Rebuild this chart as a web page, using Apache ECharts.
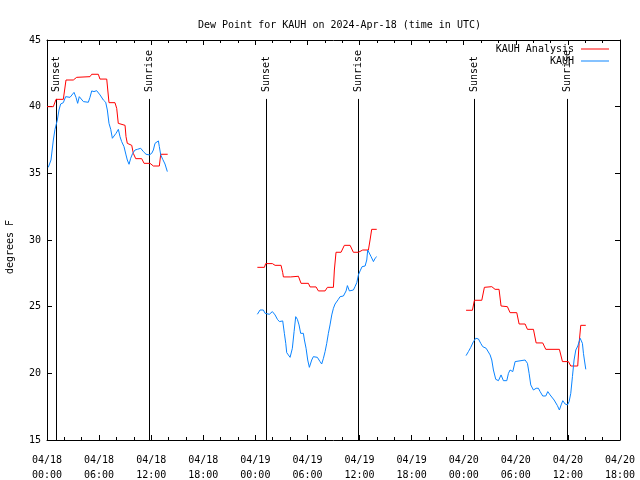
<!DOCTYPE html>
<html><head><meta charset="utf-8">
<script src="https://cdn.jsdelivr.net/npm/echarts@6/dist/echarts.min.js"></script>
<style>html,body{margin:0;padding:0;background:#fff}#c{width:640px;height:480px}</style>
</head><body><div id="c"></div>
<script>
// x values are hours after 04/18 00:00 UTC
const xTickHours = [0, 6, 12, 18, 24, 30, 36, 42, 48, 54, 60, 66];
const xTickLabels = ['04/18\n00:00','04/18\n06:00','04/18\n12:00','04/18\n18:00',
  '04/19\n00:00','04/19\n06:00','04/19\n12:00','04/19\n18:00',
  '04/20\n00:00','04/20\n06:00','04/20\n12:00','04/20\n18:00'];

const sunHours = [1.04, 11.79, 25.2, 35.86, 49.23, 59.94];
const sunLabels = ['Sunset', 'Sunrise', 'Sunset', 'Sunrise', 'Sunset', 'Sunrise'];

const analysisDay1 = [[0.0,40.0],[0.73,40.0],[1.04,40.55],[1.88,40.55],[2.19,42.0],[3.03,42.0],[3.42,42.2],[4.95,42.25],[5.15,42.43],[5.91,42.43],[6.1,42.07],[6.88,42.07],[7.14,40.3],[7.83,40.3],[8.03,39.87],[8.21,38.75],[8.99,38.6],[9.1,37.75],[9.25,37.25],[9.76,37.1],[9.94,36.5],[10.22,36.1],[10.91,36.1],[11.18,35.75],[11.87,35.75],[12.25,35.55],[12.94,35.55],[13.1,36.43],[13.9,36.43]];
const analysisDay2 = [[24.23,27.95],[25.04,27.95],[25.19,28.23],[25.96,28.23],[26.27,28.1],[26.96,28.1],[27.15,27.55],[27.23,27.23],[28.07,27.23],[28.19,27.28],[28.96,27.28],[29.26,26.75],[30.11,26.75],[30.3,26.48],[30.99,26.48],[31.26,26.18],[32.03,26.18],[32.3,26.45],[32.99,26.45],[33.1,27.75],[33.29,29.08],[33.87,29.08],[34.25,29.6],[34.91,29.6],[35.29,29.08],[35.87,29.08],[36.37,29.25],[37.02,29.25],[37.21,30.0],[37.4,30.8],[37.98,30.8]];
const analysisDay3 = [[48.27,24.73],[49.0,24.73],[49.23,25.48],[50.08,25.48],[50.38,26.45],[51.23,26.5],[51.61,26.3],[52.07,26.3],[52.3,25.05],[53.03,25.0],[53.34,24.55],[54.11,24.55],[54.38,23.7],[55.07,23.7],[55.34,23.3],[56.03,23.3],[56.34,22.28],[57.1,22.28],[57.45,21.8],[59.02,21.8],[59.37,20.88],[60.06,20.88],[60.33,20.55],[61.13,20.55],[61.29,22.25],[61.48,23.6],[62.06,23.6]];

const obsDay1 = [[0.15,35.45],[0.46,36.0],[0.73,37.5],[0.92,38.3],[1.19,39.0],[1.38,39.75],[1.57,40.2],[1.88,40.3],[2.15,40.75],[2.34,40.8],[2.65,40.7],[2.84,40.75],[3.11,41.07],[3.34,40.7],[3.53,40.25],[3.72,40.75],[3.92,40.63],[4.19,40.38],[4.38,40.3],[4.76,40.33],[4.95,40.7],[5.15,41.18],[5.41,41.13],[5.72,41.2],[5.91,41.2],[6.11,40.88],[6.49,40.5],[6.76,40.33],[6.95,39.75],[7.14,38.75],[7.34,38.3],[7.53,37.63],[7.72,37.75],[7.95,38.0],[8.22,38.3],[8.41,37.75],[8.6,37.38],[8.87,37.0],[9.1,36.38],[9.25,36.0],[9.45,35.68],[9.64,36.13],[9.87,36.5],[10.14,36.75],[10.41,36.8],[10.79,36.88],[11.1,36.63],[11.41,36.43],[11.79,36.38],[12.06,36.5],[12.25,36.75],[12.44,37.25],[12.63,37.38],[12.83,37.43],[12.94,37.0],[13.1,36.38],[13.33,36.05],[13.59,35.7],[13.86,35.13]];
const obsDay2 = [[24.23,24.43],[24.54,24.75],[24.92,24.75],[25.12,24.5],[25.61,24.43],[25.96,24.63],[26.27,24.38],[26.54,24.05],[26.77,23.88],[27.15,23.93],[27.34,23.0],[27.5,22.25],[27.61,21.55],[27.8,21.38],[28.0,21.2],[28.26,21.88],[28.46,23.13],[28.65,24.25],[28.84,24.05],[29.03,23.63],[29.22,23.0],[29.53,23.0],[29.65,22.5],[29.84,21.88],[30.03,21.0],[30.22,20.45],[30.38,20.3],[30.49,21.0],[30.68,21.25],[31.14,21.2],[31.45,20.88],[31.64,20.7],[31.84,21.13],[32.03,21.63],[32.22,22.25],[32.41,23.0],[32.6,23.63],[32.8,24.38],[32.99,24.88],[33.18,25.2],[33.37,25.33],[33.56,25.55],[33.76,25.75],[34.14,25.8],[34.33,25.88],[34.45,26.18],[34.6,26.58],[34.83,26.18],[35.02,26.13],[35.29,26.25],[35.48,26.5],[35.68,26.8],[35.87,27.38],[36.06,27.68],[36.29,28.0],[36.64,28.05],[36.83,28.5],[36.94,29.25],[37.13,29.13],[37.33,28.75],[37.6,28.38],[37.79,28.63],[37.98,28.75]];
const obsDay3 = [[48.27,21.33],[48.54,21.63],[48.81,21.95],[49.12,22.38],[49.39,22.63],[49.69,22.58],[49.96,22.25],[50.19,22.0],[50.58,21.88],[50.77,21.75],[51.04,21.38],[51.23,21.0],[51.42,20.25],[51.69,19.55],[52.0,19.45],[52.3,19.88],[52.57,19.45],[52.96,19.45],[53.15,20.0],[53.34,20.25],[53.65,20.13],[53.92,20.88],[54.11,21.0],[55.07,21.0],[55.34,20.75],[55.53,20.0],[55.72,19.13],[56.03,18.75],[56.34,18.88],[56.6,18.88],[56.8,18.63],[57.1,18.3],[57.45,18.3],[57.68,18.63],[57.95,18.38],[58.14,18.25],[58.41,18.0],[58.64,17.88],[58.79,17.58],[59.02,17.25],[59.22,17.63],[59.41,17.95],[59.68,17.7],[59.95,17.63],[60.14,17.88],[60.33,18.5],[60.52,19.75],[60.71,21.0],[60.91,21.75],[61.14,22.05],[61.41,22.63],[61.67,22.25],[61.79,21.5],[61.9,21.0],[62.06,20.3]];

function joinSegments(segs) {
  const out = [];
  segs.forEach((s, i) => {
    if (i > 0) out.push([s[0][0] - 0.5, '-']);
    s.forEach(p => out.push(p));
  });
  return out;
}

const FONT = '"DejaVu Sans Mono", "Liberation Mono", monospace';
const txt = { color: '#000', fontFamily: FONT, fontSize: 10 };

const chart = echarts.init(document.getElementById('c'), null, { renderer: 'canvas' });

const xBase = {
  type: 'value', min: 0, max: 66, interval: 6,
  splitLine: { show: false },
  axisLine: { show: true, onZero: false, lineStyle: { color: '#000', width: 1 } },
  axisTick: { show: true, inside: true, length: 5, lineStyle: { color: '#000' } },
  minorTick: { show: true, splitNumber: 3, length: 3, lineStyle: { color: '#000' } }
};
const yBase = {
  type: 'value', min: 15, max: 45, interval: 5,
  splitLine: { show: false },
  axisLine: { show: true, onZero: false, lineStyle: { color: '#000', width: 1 } },
  axisTick: { show: true, inside: true, length: 5, lineStyle: { color: '#000' } }
};

const lineTop = 40.58, labelBase = 41.1;

chart.setOption({
  animation: false,
  backgroundColor: '#fff',
  title: {
    text: 'Dew Point for KAUH on 2024-Apr-18 (time in UTC)',
    left: 193, top: 15,
    textStyle: Object.assign({ fontWeight: 'normal' }, txt)
  },
  grid: { left: 47, right: 20, top: 40, bottom: 40, show: false, containLabel: false, outerBoundsMode: 'none' },
  legend: [
    { data: [{ name: 'KAUH Analysis', icon: 'rect' }], right: 31, top: 44, align: 'right',
      itemWidth: 28, itemHeight: 1, selectedMode: false, padding: 0,
      textStyle: Object.assign({ padding: [0, 2, 0, 0] }, txt) },
    { data: [{ name: 'KAUH', icon: 'rect' }], right: 31, top: 56, align: 'right',
      itemWidth: 28, itemHeight: 1, selectedMode: false, padding: 0,
      textStyle: Object.assign({ padding: [0, 2, 0, 0] }, txt) }
  ],
  xAxis: [
    Object.assign({}, xBase, {
      position: 'bottom',
      axisLabel: Object.assign({ margin: 13, lineHeight: 15,
        formatter: v => { const i = xTickHours.indexOf(v); return i >= 0 ? xTickLabels[i] : ''; } }, txt)
    }),
    Object.assign({}, xBase, { position: 'top', axisLabel: { show: false } })
  ],
  yAxis: [
    Object.assign({}, yBase, {
      position: 'left',
      name: 'degrees F', nameLocation: 'middle', nameGap: 32, nameRotate: 90,
      nameTextStyle: Object.assign({ padding: [0, 14, 0, 0] }, txt),
      axisLabel: Object.assign({ margin: 6 }, txt)
    }),
    Object.assign({}, yBase, { position: 'right', axisLabel: { show: false } })
  ],
  series: [
    {
      name: 'KAUH Analysis', type: 'line', xAxisIndex: 0, yAxisIndex: 0,
      data: joinSegments([analysisDay1, analysisDay2, analysisDay3]),
      showSymbol: false, symbol: 'none', connectNulls: false,
      lineStyle: { color: '#ff0000', width: 1 }, itemStyle: { color: '#ff0000' }, z: 3
    },
    {
      name: 'KAUH', type: 'line', xAxisIndex: 0, yAxisIndex: 0,
      data: joinSegments([obsDay1, obsDay2, obsDay3]),
      showSymbol: false, symbol: 'none', connectNulls: false,
      lineStyle: { color: '#0a84ff', width: 1 }, itemStyle: { color: '#0a84ff' }, z: 3
    },
    {
      type: 'custom', xAxisIndex: 0, yAxisIndex: 0, z: 2,
      data: sunHours.map((h, i) => [h, 15, i]),
      encode: { x: 0, y: 1 },
      renderItem: (params, api) => {
        const h = api.value(0);
        const i = api.value(2);
        const p0 = api.coord([h, 15]);
        const p1 = api.coord([h, lineTop]);
        const pt = api.coord([h, labelBase]);
        return {
          type: 'group',
          children: [
            { type: 'line', shape: { x1: Math.round(p0[0]) + 0.5, y1: p0[1], x2: Math.round(p1[0]) + 0.5, y2: p1[1] },
              style: { stroke: '#000', lineWidth: 1 } },
            { type: 'text', x: Math.round(pt[0]), y: pt[1], rotation: Math.PI / 2,
              style: { text: sunLabels[i], fill: '#000', font: '10px ' + FONT,
                textAlign: 'left', textVerticalAlign: 'middle' } }
          ]
        };
      }
    }
  ]
});
</script>
</body></html>
